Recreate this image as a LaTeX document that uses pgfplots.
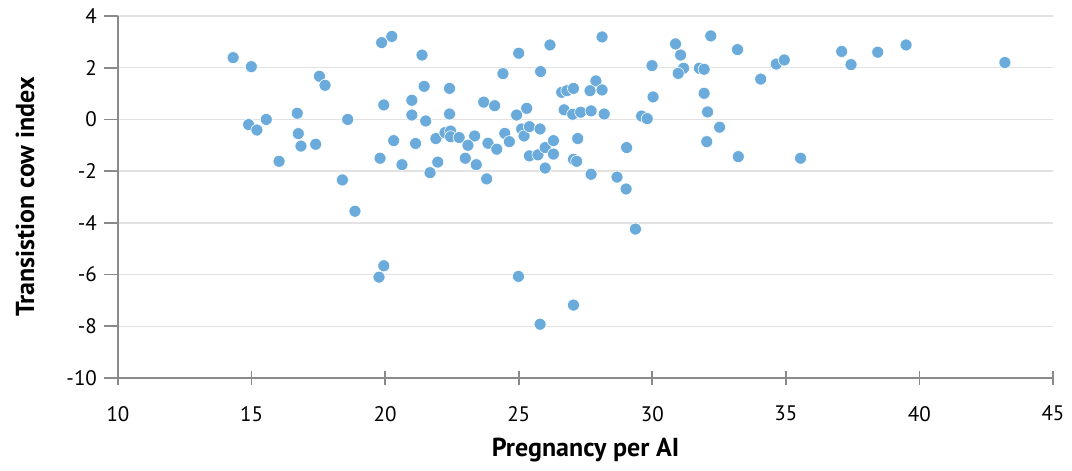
\documentclass[border=0pt]{standalone}
\usepackage{fontspec}
\setmainfont{PT Sans}
\usepackage{pgfplots}
\pgfplotsset{compat=1.18}
\usetikzlibrary{calc}
\definecolor{dotblue}{RGB}{106,171,219}
\definecolor{axisgray}{RGB}{138,138,138}
\definecolor{gridgray}{RGB}{226,226,226}

\pgfplotstableread{
x y
14.31 2.39
14.99 2.04
14.89 -0.20
15.20 -0.41
15.55 0.00
16.03 -1.62
16.71 0.24
16.75 -0.55
16.85 -1.03
17.40 -0.96
17.54 1.67
17.75 1.32
18.40 -2.34
18.60 0.00
18.87 -3.55
19.87 2.97
20.25 3.21
19.95 0.56
20.32 -0.82
19.81 -1.50
20.63 -1.75
19.95 -5.66
19.77 -6.10
21.38 2.49
21.46 1.28
22.41 1.20
21.00 0.74
21.00 0.17
21.52 -0.06
22.41 0.21
21.14 -0.93
21.90 -0.74
22.24 -0.51
22.45 -0.45
22.45 -0.67
22.77 -0.70
23.35 -0.64
23.10 -1.00
23.85 -0.92
24.18 -1.15
21.97 -1.65
21.68 -2.06
23.00 -1.50
23.41 -1.75
23.80 -2.30
23.69 0.67
24.10 0.53
24.41 1.77
25.00 2.56
25.82 1.85
26.17 2.88
24.92 0.17
25.30 0.43
24.48 -0.54
24.65 -0.86
25.11 -0.37
25.20 -0.64
25.40 -0.28
25.80 -0.37
25.40 -1.41
25.72 -1.37
25.99 -1.09
25.99 -1.88
24.99 -6.07
25.80 -7.92
26.30 -0.82
26.30 -1.34
28.12 3.19
26.61 1.05
26.80 1.11
27.05 1.20
27.89 1.49
27.67 1.11
28.12 1.14
26.70 0.37
27.02 0.20
27.32 0.28
27.71 0.33
28.20 0.21
29.60 0.13
29.81 0.03
27.21 -0.74
27.05 -1.54
27.17 -1.62
27.71 -2.12
29.04 -1.09
28.68 -2.23
29.02 -2.69
29.37 -4.24
27.05 -7.18
29.99 2.08
30.03 0.87
30.87 2.92
31.06 2.49
31.17 1.98
30.97 1.78
31.76 1.98
31.94 1.94
31.94 1.01
32.07 0.29
32.52 -0.30
32.04 -0.86
32.19 3.23
33.19 2.70
33.22 -1.44
34.06 1.56
34.64 2.14
34.94 2.30
35.55 -1.50
37.09 2.63
37.44 2.12
38.44 2.60
39.50 2.88
43.20 2.20
}\cowdata

\begin{document}
\begin{tikzpicture}
\begin{axis}[
  scale only axis,
  width=467.5pt, height=181pt,
  xmin=10, xmax=45, ymin=-10, ymax=4,
  xtick={10,15,...,45},
  ytick={-10,-8,...,4},
  axis lines*=left,
  axis line style={axisgray, line width=1pt},
  every tick/.style={axisgray, line width=0.8pt},
  major tick length=7pt,
  xtick align=center,
  ytick align=outside,
  ymajorgrids,
  grid style={gridgray, line width=0.75pt},
  /pgf/number format/assume math mode=true,
  ticklabel style={font=\fontsize{10.5}{12}\selectfont},
  xticklabel style={yshift=-7pt},
  xlabel={\bfseries Pregnancy per AI},
  ylabel={\bfseries Transistion cow index},
  label style={font=\fontsize{13}{15}\selectfont},
  xlabel style={at={(axis description cs:0.5,-0.199)}, anchor=center},
  ylabel style={at={(axis description cs:-0.0995,0.5)}, anchor=center},
  clip=false,
]
\addplot[only marks, mark=*, mark size=3pt,
  mark options={fill=dotblue, draw=white, line width=0.3pt}]
  table[x=x, y=y] {\cowdata};
\end{axis}
\pgfresetboundingbox
\path[use as bounding box] ($(current axis.south west)+(-59pt,-46.5pt)$) rectangle ($(current axis.north east)+(9.5pt,8pt)$);
\end{tikzpicture}
\end{document}
